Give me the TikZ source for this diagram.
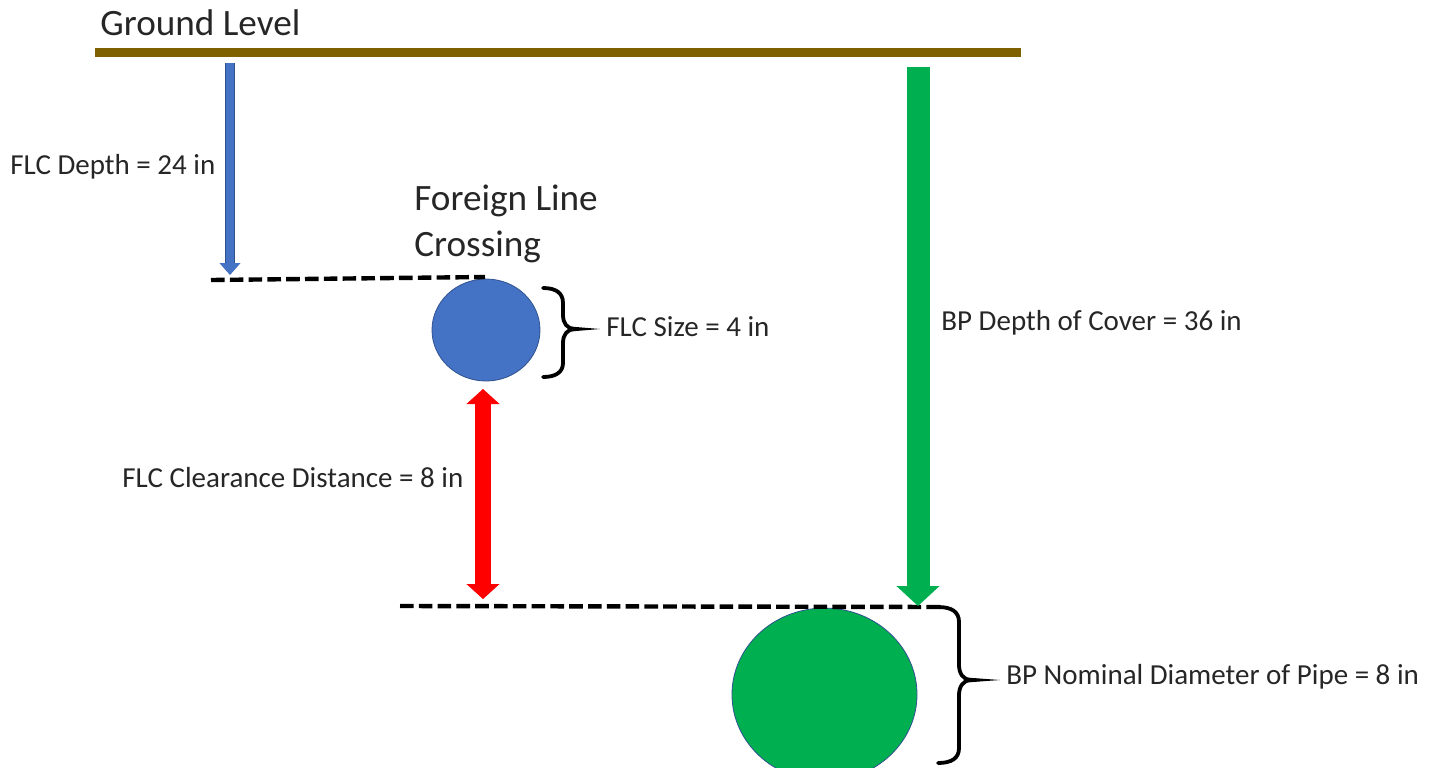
\documentclass[tikz,border=0pt]{standalone}
\usepackage{fontspec}
\setmainfont{Carlito}
\usetikzlibrary{positioning,arrows.meta,shapes.geometric}
\definecolor{groundbrown}{HTML}{7F6000}
\definecolor{flcblue}{HTML}{4472C4}
\definecolor{edgeblue}{HTML}{2F528F}
\definecolor{bpgreen}{HTML}{00B050}
\definecolor{labelgrey}{HTML}{262626}
\tikzset{
every node/.style={text=labelgrey,inner sep=0pt,align=left},
small label/.style={font=\fontsize{14.5}{16}\selectfont,anchor=west},
big label/.style={font=\fontsize{18.6}{23}\selectfont,anchor=west},
pipe/.style={ellipse,draw=edgeblue,line width=.4pt},
level line/.style={line width=2.2pt,dash pattern=on 6.8pt off 2.6pt},
brace line/.style={line width=1.9pt,black,line cap=round}
}

\begin{document}
\begin{tikzpicture}[x=0.5pt,y=-0.5pt]
   \clip (0,0) rectangle (1437,767);
   % labels
   \node[big label] (groundlabel) at (100,23) {Ground Level};
   \node[small label] (depthlabel) at (10,167) {FLC Depth = 24 in};
   \node[big label] (flclabel) at (414,224) {Foreign Line\\Crossing};
   \node[small label] (sizelabel) at (606,327) {FLC Size = 4 in};
   \node[small label] (clearlabel) at (122,478) {FLC Clearance Distance = 8 in};
   \node[small label] (coverlabel) at (941,323) {BP Depth of Cover = 36 in};
   \node[small label] (diamlabel) at (1006,677) {BP Nominal Diameter of Pipe = 8 in};
   % pipes
   \node[pipe,fill=flcblue,minimum width=54pt,minimum height=51pt] (flc) at (486,330) {};
   \node[pipe,fill=bpgreen,minimum width=92.5pt,minimum height=86.4pt] (bp) at (824.5,694.5) {};
   % free ends
   \coordinate (groundL) at (95,52);
   \coordinate (groundR) at (1021,52);
   \coordinate (depthtop) at (230,63);
   \coordinate (depthend) at (230,275);
   \coordinate (covertop) at (918,67);
   \coordinate (coverend) at (918,606);
   \coordinate (cleartop) at (483,389);
   \coordinate (clearend) at (483,599);
   \coordinate (flcdashL) at (211,280);
   \coordinate (flcdashR) at (485,277);
   \coordinate (bpdashL) at (400,606);
   \coordinate (bpdashR) at (945,607);
   % lines
   \draw[groundbrown,line width=4.5pt] (groundL) -- (groundR);
   \draw[level line] (flcdashL) -- (flcdashR);
   \draw[level line] (bpdashL) -- (bpdashR);
   % arrows
   \draw[edgeblue,line width=.4pt,double=flcblue,double distance=4.4pt,-{Triangle[length=6pt,width=10.5pt,color=flcblue]}] (depthtop) -- (depthend);
   \draw[bpgreen,line width=11.5pt,-{Triangle[length=10pt,width=21pt]}] (covertop) -- (coverend);
   \draw[edgeblue,line width=.4pt,double=red,double distance=7.6pt,{Triangle[length=7.5pt,width=16.5pt,color=red]}-{Triangle[length=7.5pt,width=16.5pt,color=red]}] (cleartop) -- (clearend);
   % braces
   \coordinate (flctip) at (600,329);
   \coordinate (bptip) at (1000,680);
   \draw[brace line] (543,288) .. controls (556,288) and (563,293) .. (563,303) -- (563,315)
      .. controls (563,323) and (567,329) .. (575,329)
      .. controls (567,329) and (563,335) .. (563,343) -- (563,363)
      .. controls (563,372) and (556,377) .. (543,377);
   \fill[black] (570,326.5) -- (flctip) -- (570,331.5) -- cycle;
   \draw[brace line] (938,607) .. controls (952,607) and (959,612) .. (959,622) -- (959,665)
      .. controls (959,673) and (963,680) .. (971,680)
      .. controls (963,680) and (959,687) .. (959,695) -- (959,748)
      .. controls (959,758) and (952,763) .. (938,763);
   \fill[black] (966,677.5) -- (bptip) -- (966,682.5) -- cycle;
\end{tikzpicture}
\end{document}
